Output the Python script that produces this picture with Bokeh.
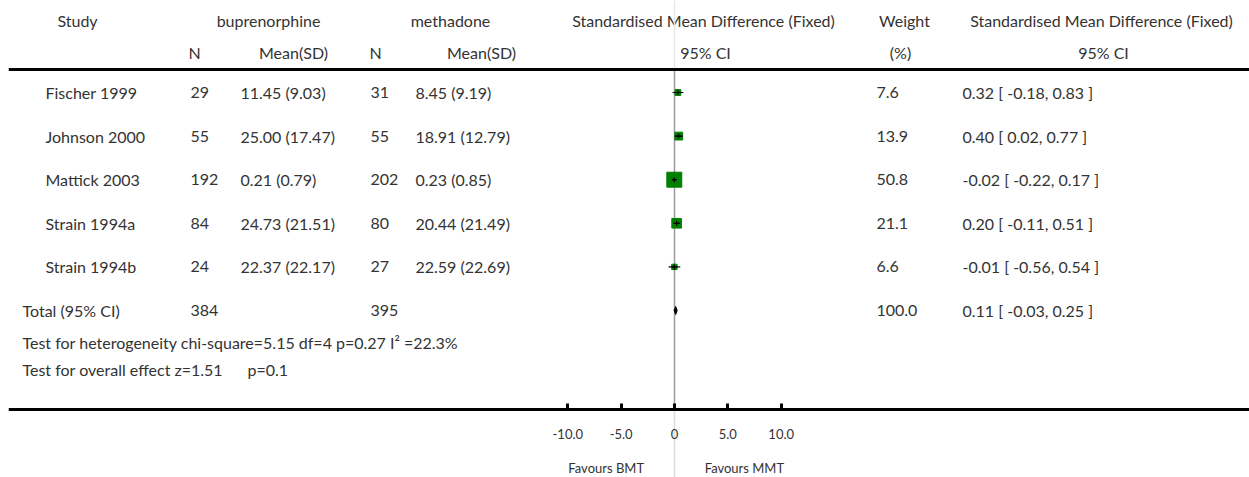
import math
from bokeh.plotting import figure
from bokeh.models import Range1d, LinearAxis, FixedTicker, Span, ColumnDataSource
from bokeh.core.properties import value
from bokeh.embed import file_html
from bokeh.resources import INLINE

# ---------------- data ----------------
studies = ["Fischer 1999", "Johnson 2000", "Mattick 2003", "Strain 1994a", "Strain 1994b"]
bup_n = [29, 55, 192, 84, 24]
bup_mean = [11.45, 25.00, 0.21, 24.73, 22.37]
bup_sd = [9.03, 17.47, 0.79, 21.51, 22.17]
met_n = [31, 55, 202, 80, 27]
met_mean = [8.45, 18.91, 0.23, 20.44, 22.59]
met_sd = [9.19, 12.79, 0.85, 21.49, 22.69]
weight = [7.6, 13.9, 50.8, 21.1, 6.6]
smd = [0.32, 0.40, -0.02, 0.20, -0.01]
smd_lo = [-0.18, 0.02, -0.22, -0.11, -0.56]
smd_hi = [0.83, 0.77, 0.17, 0.51, 0.54]

total_label = "Total (95% CI)"
total_bup_n = 384
total_met_n = 395
total_weight = 100.0
total_smd = 0.11
total_lo = -0.03
total_hi = 0.25

heterogeneity = "Test for heterogeneity chi-square=5.15 df=4 p=0.27 I\u00b2 =22.3%"
overall_z = "Test for overall effect z=1.51"
overall_p = "p=0.1"

header1 = ["Study", "buprenorphine", "methadone",
           "Standardised Mean Difference (Fixed)", "Weight",
           "Standardised Mean Difference (Fixed)"]
header2 = ["N", "Mean(SD)", "N", "Mean(SD)", "95% CI", "(%)", "95% CI"]

tick_values = [-10, -5, 0, 5, 10]
tick_labels = ["-10.0", "-5.0", "0", "5.0", "10.0"]
favours = ["Favours BMT", "Favours MMT"]
favours_pos = [-6.4, 6.55]

# ---------------- layout ----------------
W, H = 1249, 477
LEFT = 8
AXIS_Y = 409
ZERO_PX = 674
PX_PER_UNIT = 10.67
FONT = "Lato"
FS = "16px"
TXT = "#333333"

p = figure(width=W, height=H, output_backend="svg", toolbar_location=None,
           x_axis_location=None, y_axis_location=None,
           min_border_left=LEFT, min_border_right=0, min_border_top=0,
           min_border_bottom=0)
p.x_range = Range1d(LEFT, W)
p.y_range = Range1d(H, 0)
p.extra_x_ranges = {"smd": Range1d((LEFT - ZERO_PX) / PX_PER_UNIT, (W - ZERO_PX) / PX_PER_UNIT)}
p.xgrid.visible = False
p.ygrid.visible = False
p.outline_line_color = None
p.background_fill_color = "white"
p.border_fill_color = "white"

row_y0, row_dy = 92, 43.6
rows_y = [row_y0 + i * row_dy for i in range(len(studies))]
total_y = row_y0 + len(studies) * row_dy
het_y = 342
ovr_y = 369


def txt(x, y, texts, align="left", size=FS, x_range_name="default"):
    src = ColumnDataSource(dict(x=x, y=y, t=texts))
    p.text(x="x", y="y", text="t", source=src, text_font=value(FONT),
           text_font_size=size, text_color=TXT, text_align=align,
           text_baseline="middle", x_range_name=x_range_name)


# header
txt([77, 268, 450, 703, 904, 1101], [20] * 6, header1, align="center")
txt([194, 293, 375, 481, 705, 900, 1103], [52] * 7, header2, align="center")

# top rule
p.add_layout(Span(location=69, dimension="width", line_color="black", line_width=3))

# vertical zero line
p.segment(x0=[0, 0, 0], y0=[0, 69, AXIS_Y], x1=[0, 0, 0], y1=[69, AXIS_Y, H],
          x_range_name="smd", line_color=["#e6e6e6", "#9a9a9a", "#dddddd"],
          line_width=1.5)

# study rows
txt([45] * len(studies), rows_y, studies)
txt([190] * len(studies), rows_y, [str(n) for n in bup_n])
txt([240] * len(studies), rows_y, [f"{m:.2f} ({s:.2f})" for m, s in zip(bup_mean, bup_sd)])
txt([370] * len(studies), rows_y, [str(n) for n in met_n])
txt([415] * len(studies), rows_y, [f"{m:.2f} ({s:.2f})" for m, s in zip(met_mean, met_sd)])
txt([876] * len(studies), rows_y, [f"{w:.1f}" for w in weight])


def ci_str(e, lo, hi):
    return f"{e:.2f} [ {lo:.2f}, {hi:.2f} ]"


txt([962] * len(studies), rows_y, [ci_str(e, l, h) for e, l, h in zip(smd, smd_lo, smd_hi)])

# total rows
txt([22, 190, 370, 876, 962], [total_y] * 5,
    [total_label, str(total_bup_n), str(total_met_n), f"{total_weight:.1f}",
     ci_str(total_smd, total_lo, total_hi)])
txt([22, 22, 247], [het_y, ovr_y, ovr_y], [heterogeneity, overall_z, overall_p])

# forest marks
src = ColumnDataSource(dict(y=rows_y, est=smd, lo=smd_lo, hi=smd_hi,
                            size=[2.1 * math.sqrt(w) for w in weight]))
p.scatter(x="est", y="y", size="size", marker="square", source=src,
          x_range_name="smd", fill_color="#008000", line_color="#008000")
p.segment(x0="lo", y0="y", x1="hi", y1="y", source=src, x_range_name="smd",
          line_color="black", line_width=1.2)
p.scatter(x="est", y="y", size=5, marker="cross", source=src, x_range_name="smd",
          line_color="black", line_width=1.2)
p.patch(x=[total_lo, total_smd, total_hi, total_smd],
        y=[total_y, total_y - 4, total_y, total_y + 4],
        x_range_name="smd", fill_color="black", line_color="black")

# axis drawn inside the frame at y = AXIS_Y
ax = LinearAxis(x_range_name="smd", fixed_location=AXIS_Y)
ax.ticker = FixedTicker(ticks=tick_values)
ax.major_label_overrides = {v: l for v, l in zip(tick_values, tick_labels)}
ax.major_tick_in = 6
ax.major_tick_out = 0
ax.minor_tick_line_color = None
ax.axis_line_width = 3
ax.major_tick_line_width = 3
ax.major_label_standoff = 19
ax.major_label_text_font = FONT
ax.major_label_text_font_size = "13px"
ax.major_label_text_color = TXT
p.add_layout(ax, "below")

# favours labels
txt(favours_pos, [467, 467], favours, align="center", size="13px", x_range_name="smd")

open("out.html", "w").write(file_html(p, INLINE))
